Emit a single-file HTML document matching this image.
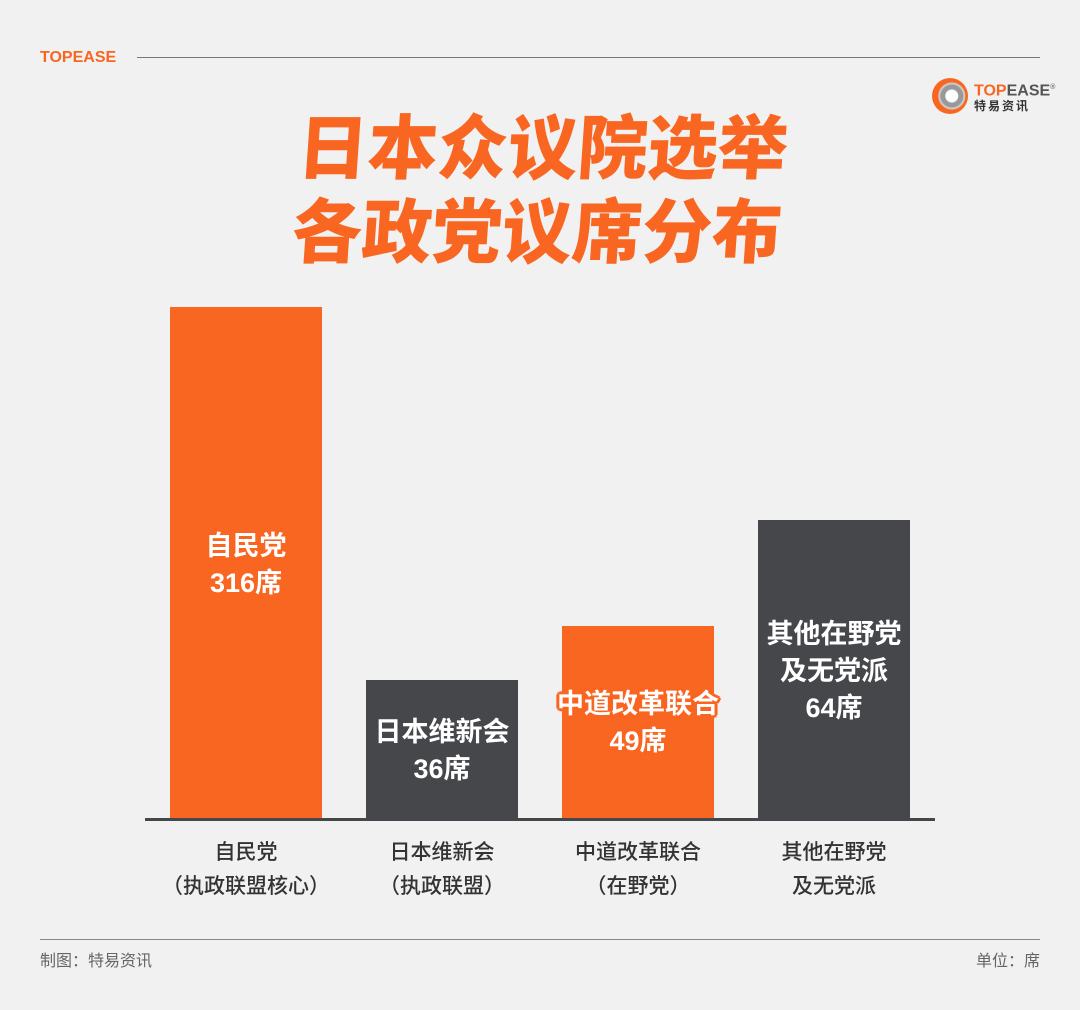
<!DOCTYPE html>
<html><head><meta charset="utf-8"><style>
body{margin:0;width:1080px;height:1010px;background:#f1f1f1;position:relative;overflow:hidden;font-family:"Liberation Sans","Noto Sans CJK SC",sans-serif}
.a{position:absolute}
.bar{position:absolute;width:152px;bottom:190px}
.o{background:#f96622}.d{background:#46474b}
.bt{position:absolute;left:0;width:100%;text-align:center;color:#fff;font-weight:bold;font-size:27px;line-height:37px}
.lab{position:absolute;top:836px;width:200px;text-align:center;color:#333;font-size:21px;line-height:34px;font-weight:500}
</style></head><body>
<div class="a" style="left:40px;top:49px;color:#f96622;font-weight:bold;font-size:16px">TOPEASE</div>
<div class="a" style="left:137px;top:57px;width:903px;height:1px;background:#777"></div>
<div class="a" style="left:932px;top:78px;width:36px;height:36px;border-radius:50%;background:radial-gradient(circle at 55% 50%,#fff 0 6px,#999 7px 11px,#ccc 12px 13px,#f96622 14px)"></div>
<div class="a" style="left:974px;top:79px;font-size:16px;font-weight:bold;color:#f96622;line-height:17px">TOP<span style="color:#555">EASE</span><sup style="font-size:7px;color:#777">®</sup></div>
<div class="a" style="left:974px;top:97px;font-size:12px;font-weight:bold;color:#333;letter-spacing:2px">特易资讯</div>
<div class="a" style="left:0;top:107px;width:1080px;text-align:center;color:#f96622;font-weight:900;font-size:70px;line-height:84px;transform:skewX(-4deg)">日本众议院选举<br>各政党议席分布</div>
<div class="bar o" style="left:170px;height:513px"><div class="bt" style="top:221px">自民党<br>316席</div></div>
<div class="bar d" style="left:366px;height:140px"><div class="bt" style="top:34px">日本维新会<br>36席</div></div>
<div class="bar o" style="left:562px;height:194px"></div>
<div class="a" style="left:530px;top:686px;width:216px;text-align:center;color:#fff;font-weight:bold;font-size:27px;line-height:37px;text-shadow:0 0 3px #f96622,2px 2px 0 #f96622,-2px -2px 0 #f96622,2px -2px 0 #f96622,-2px 2px 0 #f96622,3px 0 0 #f96622,-3px 0 0 #f96622,0 3px 0 #f96622,0 -3px 0 #f96622">中道改革联合<br>49席</div>
<div class="bar d" style="left:758px;height:300px"><div class="bt" style="top:96px">其他在野党<br>及无党派<br>64席</div></div>
<div class="a" style="left:145px;top:818px;width:790px;height:3px;background:#46474b"></div>
<div class="lab" style="left:146px">自民党<br>（执政联盟核心）</div>
<div class="lab" style="left:342px">日本维新会<br>（执政联盟）</div>
<div class="lab" style="left:538px">中道改革联合<br>（在野党）</div>
<div class="lab" style="left:734px">其他在野党<br>及无党派</div>
<div class="a" style="left:40px;top:939px;width:1000px;height:1px;background:#888"></div>
<div class="a" style="left:40px;top:947px;color:#666;font-size:16px">制图：特易资讯</div>
<div class="a" style="right:40px;top:947px;color:#666;font-size:16px">单位：席</div>
</body></html>
